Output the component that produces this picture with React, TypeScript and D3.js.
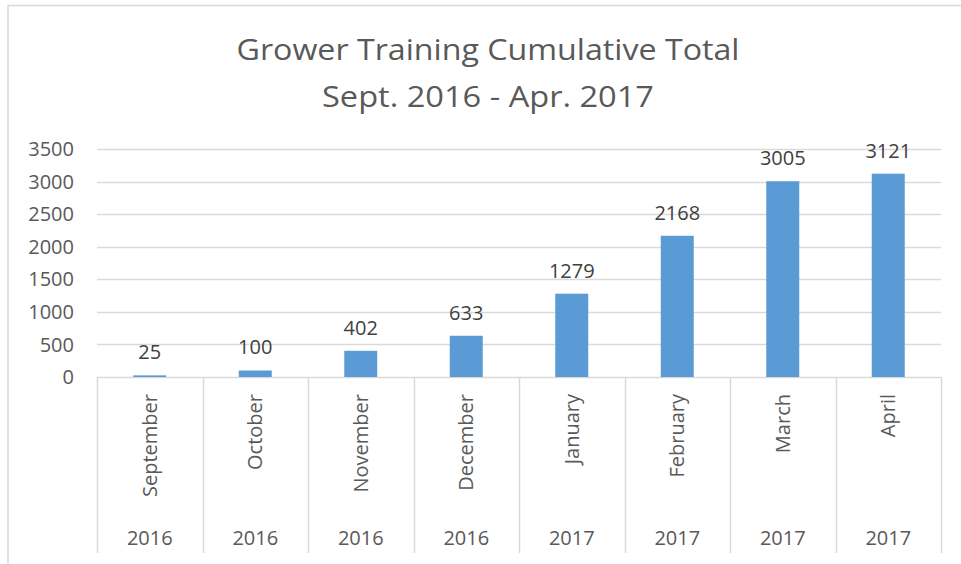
import React, { useEffect, useRef } from 'react';
import * as d3 from 'd3';

const months = ['September', 'October', 'November', 'December', 'January', 'February', 'March', 'April'];
const years = ['2016', '2016', '2016', '2016', '2017', '2017', '2017', '2017'];
const totals = [25, 100, 402, 633, 1279, 2168, 3005, 3121];
const yTicks = [0, 500, 1000, 1500, 2000, 2500, 3000, 3500];
const titleLines = ['Grower Training Cumulative Total', 'Sept. 2016 - Apr. 2017'];
const titleWidths = [503, 332];

const App = () => {
  const svgRef = useRef<SVGSVGElement | null>(null);

  useEffect(() => {
    const width = 961;
    const height = 564;
    const plot = { left: 97, right: 941, top: 149, bottom: 377 };
    const font = '"Open Sans", sans-serif';

    const svg = d3.select(svgRef.current);
    svg.selectAll('*').remove();

    svg.append('rect')
      .attr('width', width)
      .attr('height', height)
      .attr('fill', '#fff');

    // chart border
    svg.append('path')
      .attr('d', `M8,${height + 10}V5.5H${width + 10}`)
      .attr('fill', 'none')
      .attr('stroke', '#d9d9d9')
      .attr('stroke-width', 1.5);

    // title (stretched a bit to match the original's width)
    svg.append('g')
      .selectAll('text')
      .data(titleLines)
      .enter()
      .append('text')
      .attr('x', 488)
      .attr('y', (d, i) => 60 + i * 47)
      .attr('text-anchor', 'middle')
      .attr('font-family', font)
      .attr('font-size', 30)
      .attr('textLength', (d, i) => titleWidths[i])
      .attr('lengthAdjust', 'spacingAndGlyphs')
      .attr('fill', '#595959')
      .text(d => d);

    const x = d3.scaleBand()
      .domain(months)
      .range([plot.left, plot.right])
      .paddingInner(0)
      .paddingOuter(0);

    const y = d3.scaleLinear()
      .domain([0, 3500])
      .range([plot.bottom, plot.top]);

    // gridlines
    svg.append('g')
      .selectAll('line')
      .data(yTicks)
      .enter()
      .append('line')
      .attr('x1', plot.left)
      .attr('x2', plot.right)
      .attr('y1', d => Math.round(y(d)) + 0.5)
      .attr('y2', d => Math.round(y(d)) + 0.5)
      .attr('stroke', '#d9d9d9')
      .attr('stroke-width', 1.5);

    // y tick labels
    svg.append('g')
      .selectAll('text')
      .data(yTicks)
      .enter()
      .append('text')
      .attr('x', 74)
      .attr('y', d => y(d))
      .attr('dy', '0.36em')
      .attr('text-anchor', 'end')
      .attr('font-family', font)
      .attr('font-size', 20)
      .attr('fill', '#595959')
      .text(d => d);

    // category separators
    const bounds = months.map(m => x(m) as number).concat([plot.right]);
    svg.append('g')
      .selectAll('line')
      .data(bounds)
      .enter()
      .append('line')
      .attr('x1', d => Math.round(d) + 0.5)
      .attr('x2', d => Math.round(d) + 0.5)
      .attr('y1', plot.bottom)
      .attr('y2', 553)
      .attr('stroke', '#d9d9d9')
      .attr('stroke-width', 1.5);

    // bars
    const barW = 33;
    svg.append('g')
      .selectAll('rect')
      .data(totals)
      .enter()
      .append('rect')
      .attr('x', (d, i) => (x(months[i]) as number) + x.bandwidth() / 2 - barW / 2)
      .attr('y', d => y(d))
      .attr('width', barW)
      .attr('height', d => plot.bottom - y(d))
      .attr('fill', '#5b9bd5');

    // data labels
    svg.append('g')
      .selectAll('text')
      .data(totals)
      .enter()
      .append('text')
      .attr('x', (d, i) => (x(months[i]) as number) + x.bandwidth() / 2)
      .attr('y', d => y(d) - 16)
      .attr('text-anchor', 'middle')
      .attr('font-family', font)
      .attr('font-size', 20)
      .attr('fill', '#404040')
      .text(d => d);

    // month labels (rotated)
    svg.append('g')
      .selectAll('text')
      .data(months)
      .enter()
      .append('text')
      .attr('transform', d => `translate(${(x(d) as number) + x.bandwidth() / 2},394) rotate(-90)`)
      .attr('dy', '0.36em')
      .attr('text-anchor', 'end')
      .attr('font-family', font)
      .attr('font-size', 20)
      .attr('fill', '#595959')
      .text(d => d);

    // year labels
    svg.append('g')
      .selectAll('text')
      .data(years)
      .enter()
      .append('text')
      .attr('x', (d, i) => (x(months[i]) as number) + x.bandwidth() / 2)
      .attr('y', 538)
      .attr('dy', '0.36em')
      .attr('text-anchor', 'middle')
      .attr('font-family', font)
      .attr('font-size', 20)
      .attr('fill', '#595959')
      .text(d => d);
  }, []);

  return (
    <svg
      ref={svgRef}
      width={961}
      height={564}
      style={{ position: 'absolute', left: 0, top: 0 }}
    />
  );
};

export default App;
